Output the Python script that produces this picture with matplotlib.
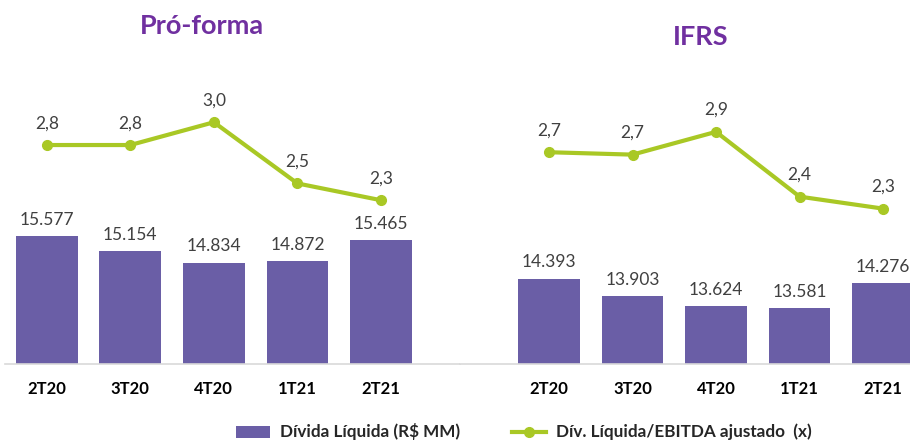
import numpy as np
import matplotlib.pyplot as plt
from matplotlib.lines import Line2D
from matplotlib.patches import Patch

plt.rcParams['font.family'] = ['Lato', 'DejaVu Sans']

quarters = ["2T20", "3T20", "4T20", "1T21", "2T21"]
divida_proforma = [15577, 15154, 14834, 14872, 15465]
divida_ifrs = [14393, 13903, 13624, 13581, 14276]
alav_proforma = [2.80, 2.80, 2.99, 2.48, 2.34]
alav_ifrs = [2.74, 2.72, 2.91, 2.37, 2.27]

BAR = "#6A5EA6"
LINE = "#A9C825"
TITLE = "#7030A0"
LABEL = "#404040"

W, H = 910, 442
fig = plt.figure(figsize=(W / 100, H / 100), dpi=100)


def painel(x0, width, xlim, divida, alav, titulo, tx, ty):
    ax = fig.add_axes([x0 / W, (H - 364) / H, width / W, 314 / H])
    x = np.arange(len(quarters))
    ax.bar(x, divida, width=0.74, color=BAR, zorder=2)
    ax.set_xlim(*xlim)
    ax.set_ylim(12029, 20734)
    ax.set_yticks([])
    for s in ["top", "left", "right"]:
        ax.spines[s].set_visible(False)
    ax.spines["bottom"].set_color("#D9D9D9")
    ax.spines["bottom"].set_linewidth(1.2)
    ax.set_xticks(x)
    ax.set_xticklabels(quarters, fontsize=12, fontweight="bold", color="black")
    ax.tick_params(axis="x", length=0, pad=12)
    for xi, v in zip(x, divida):
        ax.annotate(f"{v:,}".replace(",", "."), (xi, v), xytext=(0, 6),
                    textcoords="offset points", ha="center", va="bottom",
                    fontsize=12.5, color=LABEL)

    ax2 = ax.twinx()
    ax2.plot(x, alav, color=LINE, lw=3, marker="o", ms=7, zorder=3)
    ax2.set_ylim(0.975, 3.592)
    ax2.set_yticks([])
    ax2.axis("off")
    for xi, v in zip(x, alav):
        ax2.annotate(f"{v:.1f}".replace(".", ","), (xi, v), xytext=(0, 10),
                     textcoords="offset points", ha="center", va="bottom",
                     fontsize=12.5, color=LABEL)

    fig.text(tx / W, 1 - ty / H, titulo, ha="center", va="center",
             fontsize=19.5, fontweight="bold", color=TITLE)


painel(5, 455, (-0.5, 4.946), divida_proforma, alav_proforma, "Pró-forma", 202, 26)
painel(460, 450, (-1.066, 4.323), divida_ifrs, alav_ifrs, "IFRS", 701, 37)

handles = [Patch(facecolor=BAR, edgecolor="none"),
           Line2D([0], [0], color=LINE, lw=3, marker="o", ms=7)]
fig.legend(handles, ["Dívida Líquida (R$ MM)", "Dív. Líquida/EBITDA ajustado  (x)"],
           loc="center", bbox_to_anchor=(524 / W, 1 - 432 / H), ncol=2,
           frameon=False, prop={"size": 12.3, "weight": "bold"},
           handlelength=2.0, handleheight=0.7, handletextpad=0.6,
           columnspacing=3.0, labelcolor="#262626")

fig.savefig("out.png", dpi=100)
